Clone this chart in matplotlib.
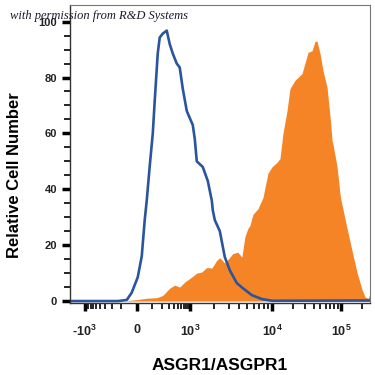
import numpy as np
import matplotlib
matplotlib.use("Agg")
import matplotlib.pyplot as plt
from matplotlib.ticker import FixedLocator

plt.rcParams['font.family'] = 'Liberation Sans'
plt.rcParams['mathtext.fontset'] = 'custom'
plt.rcParams['mathtext.rm'] = 'Liberation Sans:bold'
plt.rcParams['mathtext.bf'] = 'Liberation Sans:bold'
plt.rcParams['mathtext.default'] = 'bf'

# isotype control (blue outline)
ctrl_x = [-2300, -130, -88, -60, -29, 6, 29, 47, 60, 80, 104, 121, 149, 170,
          206, 264, 315, 377, 475, 564, 671, 844, 1000, 1088, 1151, 1217,
          1440, 1658, 1855, 1908, 2018, 2323, 2673, 3075, 3742, 4430, 5703,
          7551, 10000, 263000]
ctrl_y = [0, 0, 0.2, 0.4, 3, 8.5, 16, 29, 36, 48, 60, 72, 88.6, 94.3,
          95.7, 96.8, 92, 88.6, 85, 83.6, 76, 68, 65.5, 63, 58, 50,
          48, 43, 36, 32.5, 29, 25, 15.7, 11, 6.4, 4.6, 2.1,
          0.7, 0.1, 0.2]

# ASGR1/ASGPR1 stained (orange fill)
stain_x = [-73, -53, 0, 60, 139, 206, 315, 423, 564, 752, 1058, 1217, 1401,
           1612, 1855, 2135, 2323, 2673, 3075, 3345, 3850, 4306, 4688, 5096,
           5393, 5865, 6745, 7766, 8933, 10000, 11810, 13060, 14430, 16490,
           18230, 21540, 27200, 33250, 38000, 42000, 44900, 49600, 54800,
           62700, 69300, 74100, 76600, 87500, 96800, 100000, 122000, 144000,
           171000, 201500, 223000, 246000, 263000]
stain_y = [0, 0.2, 0.5, 1, 1.2, 2, 4.6, 5.7, 5, 6.8, 8.6, 10, 10.4,
           12, 11.8, 14.6, 15.5, 13.6, 15.7, 17, 17.5, 15.7, 23, 26,
           27, 31, 33, 37, 45.7, 48, 49.6, 51, 60, 68,
           76, 79, 81.4, 89, 89.6, 93, 93, 88.6, 82.5,
           76.4, 66, 57.5, 56, 48, 38, 36, 26, 18,
           10, 4, 1.4, 1, 2.5]

x_major = [-1000, 0, 1000, 10000, 100000]
x_major_labels = [r'-$10^{3}$', r'0', r'$10^{3}$', r'$10^{4}$', r'$10^{5}$']

# biexponential-like display scale (asinh, then decade widths)
W = 100.0
U_KNOTS = np.arcsinh(np.array(x_major, float) / W)
P_KNOTS = np.array([-52.0, 0.0, 53.0, 135.0, 204.0])
S_LO = (P_KNOTS[1] - P_KNOTS[0]) / (U_KNOTS[1] - U_KNOTS[0])
S_HI = (P_KNOTS[-1] - P_KNOTS[-2]) / (U_KNOTS[-1] - U_KNOTS[-2])


def fwd(x):
    u = np.arcsinh(np.asarray(x, float) / W)
    p = np.interp(u, U_KNOTS, P_KNOTS)
    p = np.where(u < U_KNOTS[0], P_KNOTS[0] + (u - U_KNOTS[0]) * S_LO, p)
    p = np.where(u > U_KNOTS[-1], P_KNOTS[-1] + (u - U_KNOTS[-1]) * S_HI, p)
    return p


def inv(p):
    p = np.asarray(p, float)
    u = np.interp(p, P_KNOTS, U_KNOTS)
    u = np.where(p < P_KNOTS[0], U_KNOTS[0] + (p - P_KNOTS[0]) / S_LO, u)
    u = np.where(p > P_KNOTS[-1], U_KNOTS[-1] + (p - P_KNOTS[-1]) / S_HI, u)
    return W * np.sinh(u)


fig = plt.figure(figsize=(3.75, 3.75), dpi=100)
ax = fig.add_axes([0.187, 0.192, 0.800, 0.795])
ax.set_xscale('function', functions=(fwd, inv))

ax.fill_between(stain_x, 0, stain_y, color='#f58426', linewidth=0)
ax.plot(ctrl_x, ctrl_y, color='#2a559e', linewidth=1.9)

ax.set_xlim(-2300, 263000)
ax.set_ylim(-0.7, 106)

minors = []
for k in range(1, 10):
    if k > 1:
        minors += [-k * 100, k * 100, k * 1000, k * 10000, k * 100000]
    else:
        minors += [-100, 100]
ax.xaxis.set_major_locator(FixedLocator(x_major))
ax.xaxis.set_minor_locator(FixedLocator(minors))
ax.set_xticklabels(x_major_labels)
ax.set_yticks([0, 20, 40, 60, 80, 100])
ax.yaxis.set_minor_locator(FixedLocator(list(range(5, 100, 5))))

ax.tick_params(axis='both', which='major', length=6, width=2.5,
               color='black', labelsize=8, labelcolor='#222222')
ax.tick_params(axis='x', which='major', labelsize=9, pad=9)
ax.tick_params(axis='both', which='minor', length=4, width=1.2,
               color='black')
for lab in ax.get_yticklabels() + ax.get_xticklabels():
    lab.set_fontweight('bold')

for side in ['top', 'right']:
    ax.spines[side].set_color('#777777')
    ax.spines[side].set_linewidth(0.8)
for side in ['left', 'bottom']:
    ax.spines[side].set_color('#333333')
    ax.spines[side].set_linewidth(1.0)

ax.set_ylabel('Relative Cell Number', fontsize=12, fontweight='bold')
ax.yaxis.set_label_coords(-0.16, 0.43)
ax.set_xlabel('ASGR1/ASGPR1', fontsize=12.5, fontweight='bold', labelpad=14)

fig.text(0.027, 0.958, 'with permission from R&D Systems', fontsize=9,
         style='italic', family='Liberation Serif', color='#1a1a2e',
         va='center', ha='left')

fig.savefig('out.png', dpi=100)
